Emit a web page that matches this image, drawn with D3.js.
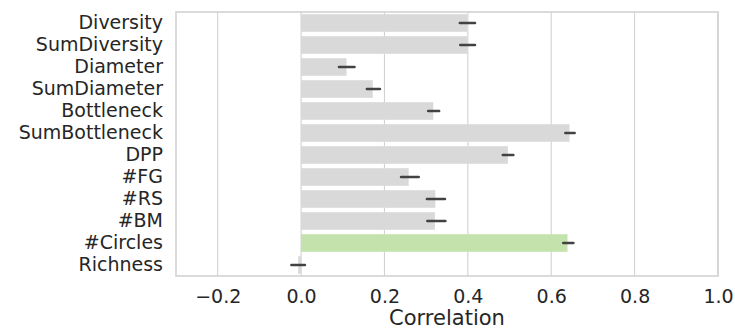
<!DOCTYPE html>
<html>
<head>
<meta charset="utf-8">
<script src="https://cdn.jsdelivr.net/npm/d3@7"></script>
<style>
  html, body { margin: 0; padding: 0; background: #ffffff; }
  svg { display: block; font-family: "DejaVu Sans", sans-serif; }
</style>
</head>
<body>
<svg id="chart" width="735" height="330"></svg>
<script>
const categories = ["Diversity", "SumDiversity", "Diameter", "SumDiameter", "Bottleneck", "SumBottleneck", "DPP", "#FG", "#RS", "#BM", "#Circles", "Richness"];
const values  = [0.398, 0.399, 0.109, 0.172, 0.317, 0.644, 0.496, 0.258, 0.322, 0.321, 0.639, -0.007];
const ciLow   = [0.381, 0.382, 0.091, 0.158, 0.305, 0.634, 0.484, 0.240, 0.302, 0.303, 0.629, -0.023];
const ciHigh  = [0.417, 0.417, 0.128, 0.189, 0.331, 0.656, 0.509, 0.282, 0.345, 0.346, 0.653, 0.009];
const highlighted = ["#Circles"];
const xTicks = [-0.2, 0.0, 0.2, 0.4, 0.6, 0.8, 1.0];
const xDomain = [-0.3, 1.0];
const xLabel = "Correlation";

const W = 735, H = 330;
const margin = {top: 12, right: 17, bottom: 54, left: 176};
const svg = d3.select("#chart");
const textColor = "#262626";
const gridColor = "#d2d2d2";

const x = d3.scaleLinear().domain(xDomain).range([margin.left, W - margin.right]);
const y = d3.scaleBand().domain(categories).range([margin.top, H - margin.bottom])
  .paddingInner(0.2).paddingOuter(0.1);

const data = categories.map((c, i) => ({cat: c, v: values[i], lo: ciLow[i], hi: ciHigh[i]}));

// grid
const xAxis = d3.axisBottom(x).tickValues(xTicks).tickFormat(d3.format(".1f")).tickSize(0).tickPadding(0);
svg.append("g").selectAll("line.grid").data(xTicks).join("line")
  .attr("x1", d => x(d)).attr("x2", d => x(d))
  .attr("y1", margin.top).attr("y2", H - margin.bottom)
  .attr("stroke", gridColor).attr("stroke-width", 1.1);

// bars
svg.append("g").selectAll("rect").data(data).join("rect")
  .attr("x", d => Math.min(x(0), x(d.v)))
  .attr("width", d => Math.abs(x(d.v) - x(0)))
  .attr("y", d => y(d.cat))
  .attr("height", y.bandwidth())
  .attr("fill", d => highlighted.includes(d.cat) ? "#c4e2ab" : "#d9d9d9");

// error bars
svg.append("g").selectAll("line").data(data).join("line")
  .attr("x1", d => x(d.lo)).attr("x2", d => x(d.hi))
  .attr("y1", d => y(d.cat) + y.bandwidth() / 2)
  .attr("y2", d => y(d.cat) + y.bandwidth() / 2)
  .attr("stroke", "#424242").attr("stroke-width", 2.7).attr("stroke-linecap", "round");

// frame
svg.append("rect")
  .attr("x", margin.left).attr("y", margin.top)
  .attr("width", W - margin.left - margin.right)
  .attr("height", H - margin.top - margin.bottom)
  .attr("fill", "none").attr("stroke", gridColor).attr("stroke-width", 1.6);

// x axis labels
const gx = svg.append("g").attr("transform", `translate(0,${H - margin.bottom})`).call(xAxis);
gx.select(".domain").remove();
gx.selectAll("text").attr("fill", textColor).attr("font-size", 19)
  .attr("font-family", "DejaVu Sans").attr("dy", null).attr("y", 26.5);

// y axis labels
const yAxis = d3.axisLeft(y).tickSize(0).tickPadding(13);
const gy = svg.append("g").attr("transform", `translate(${margin.left},0)`).call(yAxis);
gy.select(".domain").remove();
gy.selectAll("text").attr("fill", textColor).attr("font-size", 19).attr("font-family", "DejaVu Sans");

// x label
svg.append("text")
  .attr("x", (margin.left + W - margin.right) / 2)
  .attr("y", 325)
  .attr("text-anchor", "middle")
  .attr("fill", textColor)
  .attr("font-size", 21)
  .text(xLabel);
</script>
</body>
</html>
